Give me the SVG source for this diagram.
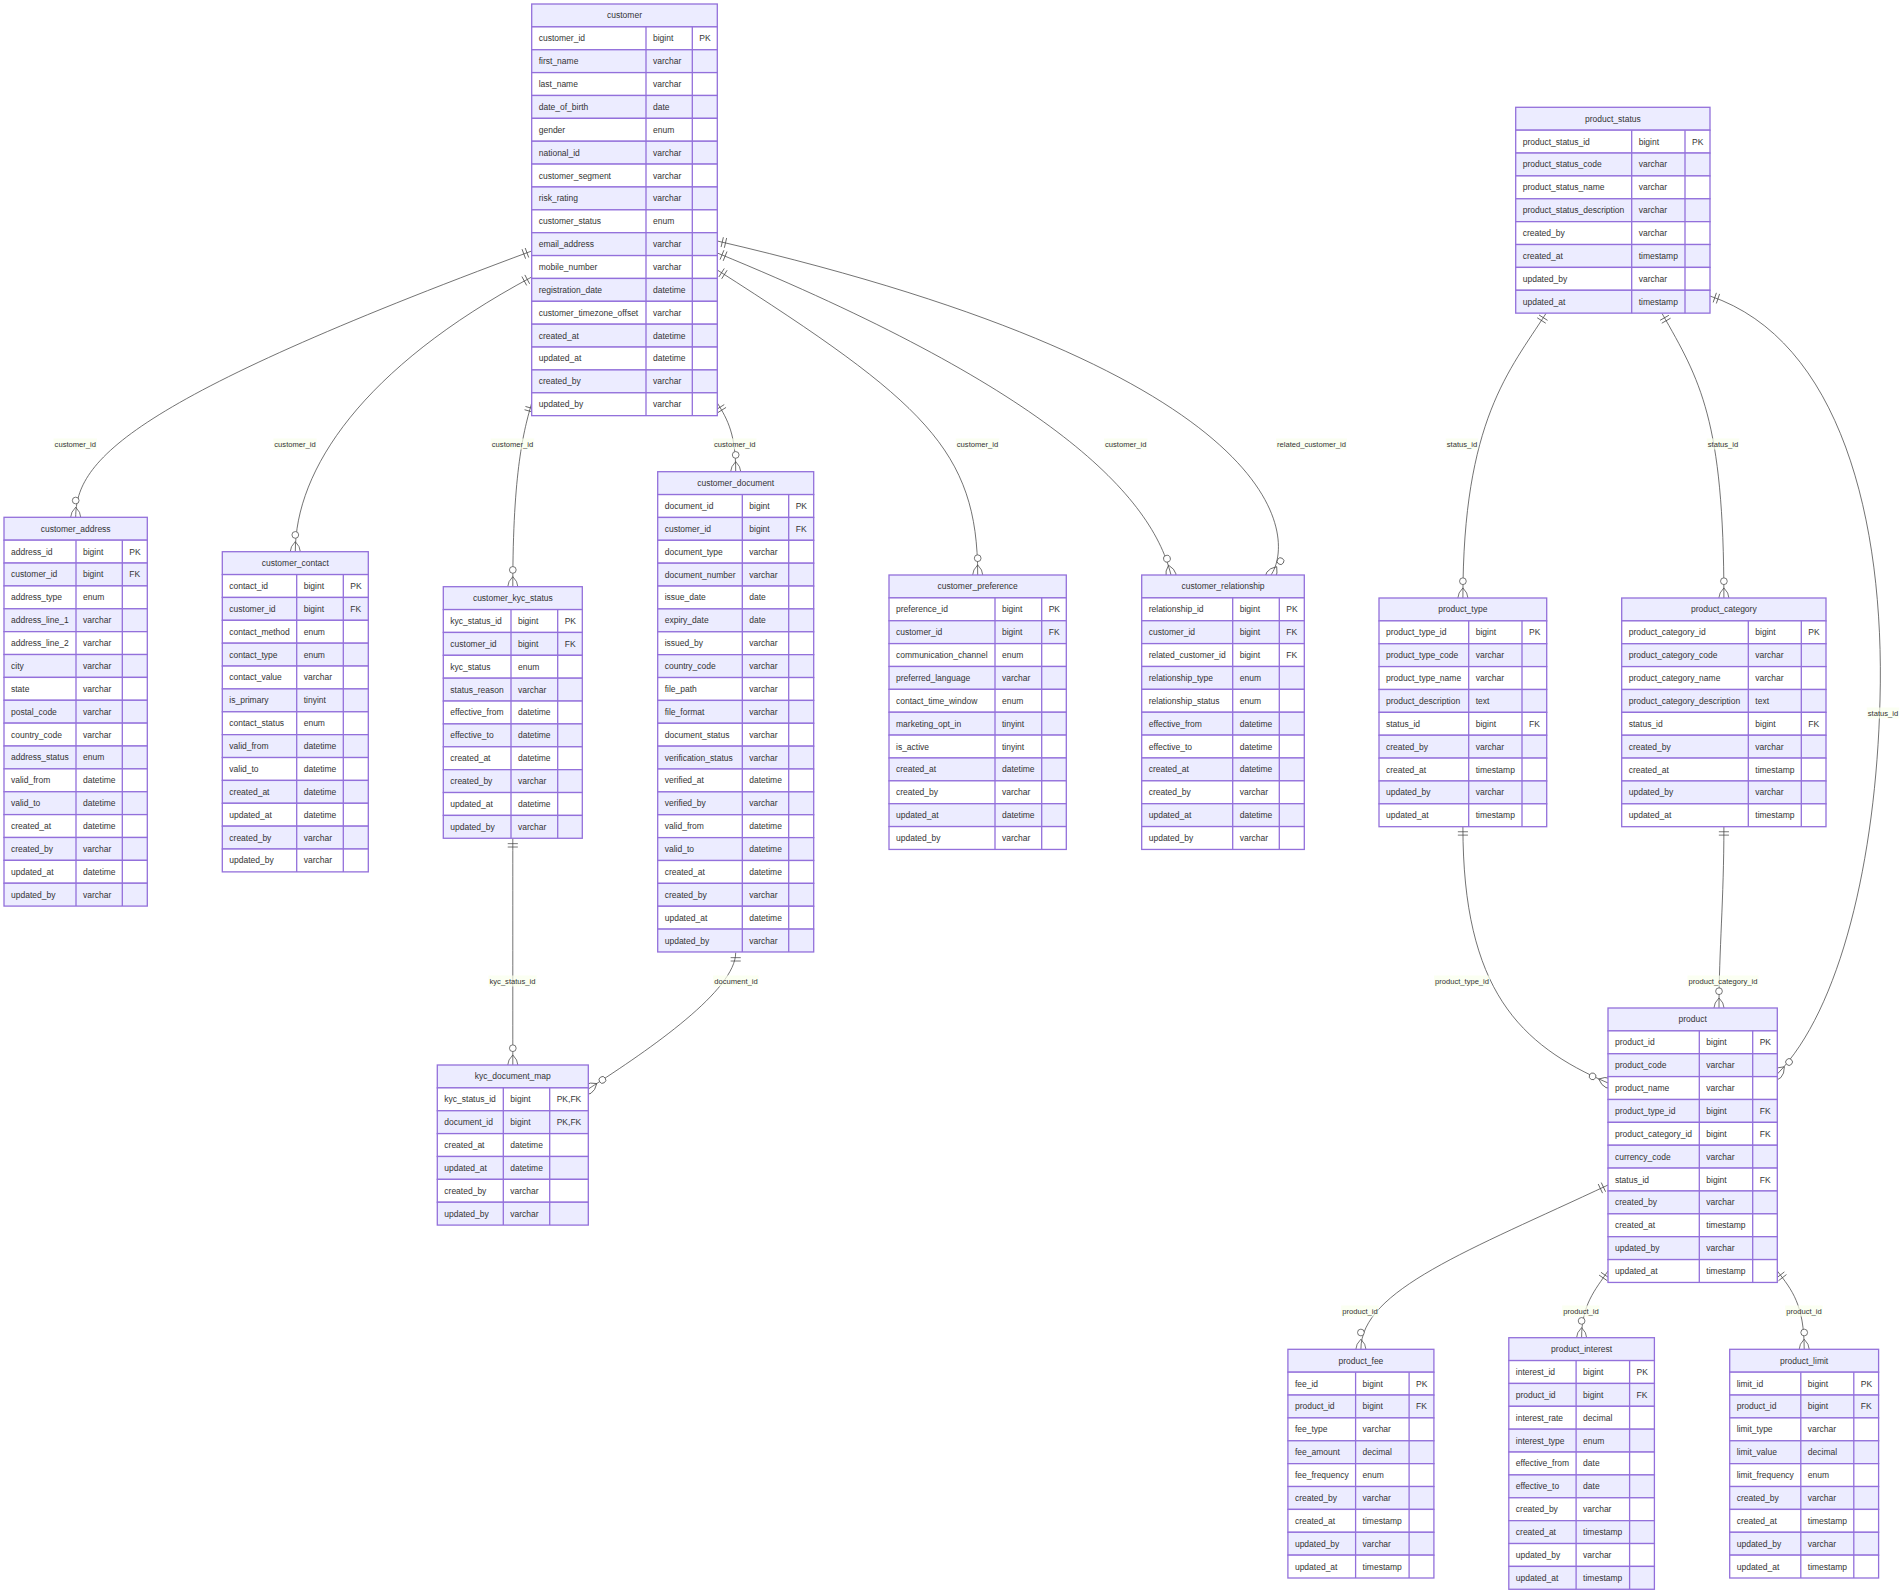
<svg xmlns="http://www.w3.org/2000/svg" width="1904" height="1595" viewBox="0 0 1904 1595">
<style>
  .h{fill:#ECECFF;stroke:#9370DB;stroke-width:1.3}
  .o{fill:#FFFFFF;stroke:#9370DB;stroke-width:1.3}
  .e{fill:#ECECFF;stroke:#9370DB;stroke-width:1.3}
  .d{fill:none;stroke:#9370DB;stroke-width:1.3}
  .t{font-family:"Liberation Sans",Arial,sans-serif;font-size:8.5px;fill:#333;dominant-baseline:central}
  .c{text-anchor:middle}
  .rel{fill:none;stroke:#444;stroke-width:0.75;marker-start:url(#one);marker-end:url(#many)}
  .lbg{fill:#F9FFEC;opacity:0.7}
  .lb{font-family:"Liberation Sans",Arial,sans-serif;font-size:7.6px;fill:#333;text-anchor:middle;dominant-baseline:central}
</style>
<defs>
  <!-- exactly-one bar pair at the parent end -->
  <marker id="one" viewBox="0 0 18 18" refX="0" refY="9" markerWidth="10.1" markerHeight="10.1" markerUnits="userSpaceOnUse" orient="auto" overflow="visible">
    <path d="M9,0 L9,18 M15,0 L15,18" fill="none" stroke="#444" stroke-width="1.3"/>
  </marker>
  <!-- zero-or-more circle and crow's foot at the child end -->
  <marker id="many" viewBox="0 0 57 36" refX="39" refY="18" markerWidth="31.9" markerHeight="20.2" markerUnits="userSpaceOnUse" orient="auto" overflow="visible">
    <circle cx="9" cy="18" r="6" fill="#fff" stroke="#444" stroke-width="1.3"/>
    <path d="M21,18 Q39,0 57,18 Q39,36 21,18" fill="none" stroke="#444" stroke-width="1.3"/>
  </marker>
</defs>
<rect width="1904" height="1595" fill="#fff"/>

<g id="connectors">
  <path class="rel" d="M531.7,251 C130,400 75.7,460 75.7,517.3"/>
  <path class="rel" d="M531.7,277 C362,368 295.3,470 295.3,551.7"/>
  <path class="rel" d="M531.7,403 C524,430 512.8,470 512.8,586.7"/>
  <path class="rel" d="M717.3,403 C728,420 735.7,435 735.7,471.7"/>
  <path class="rel" d="M717.3,270 C924,402 977.7,450 977.7,575"/>
  <path class="rel" d="M717.3,253 C1039,385 1150,490 1171,575"/>
  <path class="rel" d="M717.3,241 C1295,375 1295,540 1271,575"/>
  <path class="rel" d="M512.8,838.6 C512.8,900 512.8,1000 512.8,1065"/>
  <path class="rel" d="M735.7,952.6 C735.7,990 652,1048 588.3,1089"/>
  <path class="rel" d="M1546,313.4 C1510,370 1462.9,420 1462.9,598"/>
  <path class="rel" d="M1662,313.4 C1700,380 1723.9,420 1723.9,598"/>
  <path class="rel" d="M1710,296 C1840,340 1885,520 1880,700 C1876,860 1840,1010 1777.3,1074"/>
  <path class="rel" d="M1462.9,826.7 C1462.9,990 1520,1045 1608,1083"/>
  <path class="rel" d="M1723.9,826.7 C1723.9,900 1719,950 1719,1008"/>
  <path class="rel" d="M1608,1185 C1470,1250 1360.9,1290 1360.9,1349.3"/>
  <path class="rel" d="M1608,1271 C1595,1290 1581.6,1305 1581.6,1337.7"/>
  <path class="rel" d="M1777.3,1271 C1792,1290 1804.2,1305 1804.2,1349.3"/>
  <g id="edge-labels">
    <rect class="lbg" x="53.6" y="438.5" width="43.4" height="11"/><text class="lb" x="75.3" y="444">customer_id</text>
    <rect class="lbg" x="273.3" y="438.5" width="43.4" height="11"/><text class="lb" x="295" y="444">customer_id</text>
    <rect class="lbg" x="490.8" y="438.5" width="43.4" height="11"/><text class="lb" x="512.5" y="444">customer_id</text>
    <rect class="lbg" x="713" y="438.5" width="43.4" height="11"/><text class="lb" x="734.7" y="444">customer_id</text>
    <rect class="lbg" x="955.8" y="438.5" width="43.4" height="11"/><text class="lb" x="977.5" y="444">customer_id</text>
    <rect class="lbg" x="1104" y="438.5" width="43.4" height="11"/><text class="lb" x="1125.7" y="444">customer_id</text>
    <rect class="lbg" x="1276" y="438.5" width="71" height="11"/><text class="lb" x="1311.5" y="444">related_customer_id</text>
    <rect class="lbg" x="1445.8" y="438.5" width="32.4" height="11"/><text class="lb" x="1462" y="444">status_id</text>
    <rect class="lbg" x="1706.8" y="438.5" width="32.4" height="11"/><text class="lb" x="1723" y="444">status_id</text>
    <rect class="lbg" x="1866.8" y="707.5" width="32.4" height="11"/><text class="lb" x="1883" y="713">status_id</text>
    <rect class="lbg" x="488.5" y="975.5" width="48" height="11"/><text class="lb" x="512.5" y="981">kyc_status_id</text>
    <rect class="lbg" x="713.2" y="975.5" width="45.5" height="11"/><text class="lb" x="736" y="981">document_id</text>
    <rect class="lbg" x="1434" y="975.5" width="56" height="11"/><text class="lb" x="1462" y="981">product_type_id</text>
    <rect class="lbg" x="1687.5" y="975.5" width="71" height="11"/><text class="lb" x="1723" y="981">product_category_id</text>
    <rect class="lbg" x="1341.2" y="1305.5" width="37.5" height="11"/><text class="lb" x="1360" y="1311">product_id</text>
    <rect class="lbg" x="1562.2" y="1305.5" width="37.5" height="11"/><text class="lb" x="1581" y="1311">product_id</text>
    <rect class="lbg" x="1785.2" y="1305.5" width="37.5" height="11"/><text class="lb" x="1804" y="1311">product_id</text>
  </g>
</g>

<g id="nodes">
<!-- customer -->
<g id="customer" transform="translate(531.7,4)">
  <rect class="h" width="185.6" height="22.87"/>
  <rect class="o" y="22.87" width="185.6" height="22.87"/>
  <rect class="e" y="45.74" width="185.6" height="22.87"/>
  <rect class="o" y="68.61" width="185.6" height="22.87"/>
  <rect class="e" y="91.48" width="185.6" height="22.87"/>
  <rect class="o" y="114.35" width="185.6" height="22.87"/>
  <rect class="e" y="137.22" width="185.6" height="22.87"/>
  <rect class="o" y="160.09" width="185.6" height="22.87"/>
  <rect class="e" y="182.96" width="185.6" height="22.87"/>
  <rect class="o" y="205.83" width="185.6" height="22.87"/>
  <rect class="e" y="228.7" width="185.6" height="22.87"/>
  <rect class="o" y="251.57" width="185.6" height="22.87"/>
  <rect class="e" y="274.44" width="185.6" height="22.87"/>
  <rect class="o" y="297.31" width="185.6" height="22.87"/>
  <rect class="e" y="320.18" width="185.6" height="22.87"/>
  <rect class="o" y="343.05" width="185.6" height="22.87"/>
  <rect class="e" y="365.92" width="185.6" height="22.87"/>
  <rect class="o" y="388.79" width="185.6" height="22.87"/>
  <path class="d" d="M114.3,22.87V411.66M160.6,22.87V411.66"/>
  <g class="t">
    <text class="c" x="92.8" y="11.44">customer</text>
    <text x="7" y="34.31">customer_id</text><text x="121.3" y="34.31">bigint</text><text x="167.6" y="34.31">PK</text>
    <text x="7" y="57.18">first_name</text><text x="121.3" y="57.18">varchar</text>
    <text x="7" y="80.05">last_name</text><text x="121.3" y="80.05">varchar</text>
    <text x="7" y="102.92">date_of_birth</text><text x="121.3" y="102.92">date</text>
    <text x="7" y="125.79">gender</text><text x="121.3" y="125.79">enum</text>
    <text x="7" y="148.66">national_id</text><text x="121.3" y="148.66">varchar</text>
    <text x="7" y="171.53">customer_segment</text><text x="121.3" y="171.53">varchar</text>
    <text x="7" y="194.4">risk_rating</text><text x="121.3" y="194.4">varchar</text>
    <text x="7" y="217.27">customer_status</text><text x="121.3" y="217.27">enum</text>
    <text x="7" y="240.14">email_address</text><text x="121.3" y="240.14">varchar</text>
    <text x="7" y="263.01">mobile_number</text><text x="121.3" y="263.01">varchar</text>
    <text x="7" y="285.88">registration_date</text><text x="121.3" y="285.88">datetime</text>
    <text x="7" y="308.75">customer_timezone_offset</text><text x="121.3" y="308.75">varchar</text>
    <text x="7" y="331.62">created_at</text><text x="121.3" y="331.62">datetime</text>
    <text x="7" y="354.49">updated_at</text><text x="121.3" y="354.49">datetime</text>
    <text x="7" y="377.36">created_by</text><text x="121.3" y="377.36">varchar</text>
    <text x="7" y="400.23">updated_by</text><text x="121.3" y="400.23">varchar</text>
  </g>
</g>

<!-- customer_address -->
<g id="customer_address" transform="translate(4,517.3)">
  <rect class="h" width="143.3" height="22.87"/>
  <rect class="o" y="22.87" width="143.3" height="22.87"/>
  <rect class="e" y="45.74" width="143.3" height="22.87"/>
  <rect class="o" y="68.61" width="143.3" height="22.87"/>
  <rect class="e" y="91.48" width="143.3" height="22.87"/>
  <rect class="o" y="114.35" width="143.3" height="22.87"/>
  <rect class="e" y="137.22" width="143.3" height="22.87"/>
  <rect class="o" y="160.09" width="143.3" height="22.87"/>
  <rect class="e" y="182.96" width="143.3" height="22.87"/>
  <rect class="o" y="205.83" width="143.3" height="22.87"/>
  <rect class="e" y="228.7" width="143.3" height="22.87"/>
  <rect class="o" y="251.57" width="143.3" height="22.87"/>
  <rect class="e" y="274.44" width="143.3" height="22.87"/>
  <rect class="o" y="297.31" width="143.3" height="22.87"/>
  <rect class="e" y="320.18" width="143.3" height="22.87"/>
  <rect class="o" y="343.05" width="143.3" height="22.87"/>
  <rect class="e" y="365.92" width="143.3" height="22.87"/>
  <path class="d" d="M72,22.87V388.79M118.3,22.87V388.79"/>
  <g class="t">
    <text class="c" x="71.65" y="11.44">customer_address</text>
    <text x="7" y="34.31">address_id</text><text x="79" y="34.31">bigint</text><text x="125.3" y="34.31">PK</text>
    <text x="7" y="57.18">customer_id</text><text x="79" y="57.18">bigint</text><text x="125.3" y="57.18">FK</text>
    <text x="7" y="80.05">address_type</text><text x="79" y="80.05">enum</text>
    <text x="7" y="102.92">address_line_1</text><text x="79" y="102.92">varchar</text>
    <text x="7" y="125.79">address_line_2</text><text x="79" y="125.79">varchar</text>
    <text x="7" y="148.66">city</text><text x="79" y="148.66">varchar</text>
    <text x="7" y="171.53">state</text><text x="79" y="171.53">varchar</text>
    <text x="7" y="194.4">postal_code</text><text x="79" y="194.4">varchar</text>
    <text x="7" y="217.27">country_code</text><text x="79" y="217.27">varchar</text>
    <text x="7" y="240.14">address_status</text><text x="79" y="240.14">enum</text>
    <text x="7" y="263.01">valid_from</text><text x="79" y="263.01">datetime</text>
    <text x="7" y="285.88">valid_to</text><text x="79" y="285.88">datetime</text>
    <text x="7" y="308.75">created_at</text><text x="79" y="308.75">datetime</text>
    <text x="7" y="331.62">created_by</text><text x="79" y="331.62">varchar</text>
    <text x="7" y="354.49">updated_at</text><text x="79" y="354.49">datetime</text>
    <text x="7" y="377.36">updated_by</text><text x="79" y="377.36">varchar</text>
  </g>
</g>

<!-- customer_contact -->
<g id="customer_contact" transform="translate(222.3,551.7)">
  <rect class="h" width="146" height="22.87"/>
  <rect class="o" y="22.87" width="146" height="22.87"/>
  <rect class="e" y="45.74" width="146" height="22.87"/>
  <rect class="o" y="68.61" width="146" height="22.87"/>
  <rect class="e" y="91.48" width="146" height="22.87"/>
  <rect class="o" y="114.35" width="146" height="22.87"/>
  <rect class="e" y="137.22" width="146" height="22.87"/>
  <rect class="o" y="160.09" width="146" height="22.87"/>
  <rect class="e" y="182.96" width="146" height="22.87"/>
  <rect class="o" y="205.83" width="146" height="22.87"/>
  <rect class="e" y="228.7" width="146" height="22.87"/>
  <rect class="o" y="251.57" width="146" height="22.87"/>
  <rect class="e" y="274.44" width="146" height="22.87"/>
  <rect class="o" y="297.31" width="146" height="22.87"/>
  <path class="d" d="M74.4,22.87V320.18M121,22.87V320.18"/>
  <g class="t">
    <text class="c" x="73" y="11.44">customer_contact</text>
    <text x="7" y="34.31">contact_id</text><text x="81.4" y="34.31">bigint</text><text x="128" y="34.31">PK</text>
    <text x="7" y="57.18">customer_id</text><text x="81.4" y="57.18">bigint</text><text x="128" y="57.18">FK</text>
    <text x="7" y="80.05">contact_method</text><text x="81.4" y="80.05">enum</text>
    <text x="7" y="102.92">contact_type</text><text x="81.4" y="102.92">enum</text>
    <text x="7" y="125.79">contact_value</text><text x="81.4" y="125.79">varchar</text>
    <text x="7" y="148.66">is_primary</text><text x="81.4" y="148.66">tinyint</text>
    <text x="7" y="171.53">contact_status</text><text x="81.4" y="171.53">enum</text>
    <text x="7" y="194.4">valid_from</text><text x="81.4" y="194.4">datetime</text>
    <text x="7" y="217.27">valid_to</text><text x="81.4" y="217.27">datetime</text>
    <text x="7" y="240.14">created_at</text><text x="81.4" y="240.14">datetime</text>
    <text x="7" y="263.01">updated_at</text><text x="81.4" y="263.01">datetime</text>
    <text x="7" y="285.88">created_by</text><text x="81.4" y="285.88">varchar</text>
    <text x="7" y="308.75">updated_by</text><text x="81.4" y="308.75">varchar</text>
  </g>
</g>

<!-- customer_kyc_status -->
<g id="customer_kyc_status" transform="translate(443.3,586.7)">
  <rect class="h" width="139" height="22.87"/>
  <rect class="o" y="22.87" width="139" height="22.87"/>
  <rect class="e" y="45.74" width="139" height="22.87"/>
  <rect class="o" y="68.61" width="139" height="22.87"/>
  <rect class="e" y="91.48" width="139" height="22.87"/>
  <rect class="o" y="114.35" width="139" height="22.87"/>
  <rect class="e" y="137.22" width="139" height="22.87"/>
  <rect class="o" y="160.09" width="139" height="22.87"/>
  <rect class="e" y="182.96" width="139" height="22.87"/>
  <rect class="o" y="205.83" width="139" height="22.87"/>
  <rect class="e" y="228.7" width="139" height="22.87"/>
  <path class="d" d="M67.7,22.87V251.57M114.4,22.87V251.57"/>
  <g class="t">
    <text class="c" x="69.5" y="11.44">customer_kyc_status</text>
    <text x="7" y="34.31">kyc_status_id</text><text x="74.7" y="34.31">bigint</text><text x="121.4" y="34.31">PK</text>
    <text x="7" y="57.18">customer_id</text><text x="74.7" y="57.18">bigint</text><text x="121.4" y="57.18">FK</text>
    <text x="7" y="80.05">kyc_status</text><text x="74.7" y="80.05">enum</text>
    <text x="7" y="102.92">status_reason</text><text x="74.7" y="102.92">varchar</text>
    <text x="7" y="125.79">effective_from</text><text x="74.7" y="125.79">datetime</text>
    <text x="7" y="148.66">effective_to</text><text x="74.7" y="148.66">datetime</text>
    <text x="7" y="171.53">created_at</text><text x="74.7" y="171.53">datetime</text>
    <text x="7" y="194.4">created_by</text><text x="74.7" y="194.4">varchar</text>
    <text x="7" y="217.27">updated_at</text><text x="74.7" y="217.27">datetime</text>
    <text x="7" y="240.14">updated_by</text><text x="74.7" y="240.14">varchar</text>
  </g>
</g>

<!-- customer_document -->
<g id="customer_document" transform="translate(657.7,471.7)">
  <rect class="h" width="156" height="22.87"/>
  <rect class="o" y="22.87" width="156" height="22.87"/>
  <rect class="e" y="45.74" width="156" height="22.87"/>
  <rect class="o" y="68.61" width="156" height="22.87"/>
  <rect class="e" y="91.48" width="156" height="22.87"/>
  <rect class="o" y="114.35" width="156" height="22.87"/>
  <rect class="e" y="137.22" width="156" height="22.87"/>
  <rect class="o" y="160.09" width="156" height="22.87"/>
  <rect class="e" y="182.96" width="156" height="22.87"/>
  <rect class="o" y="205.83" width="156" height="22.87"/>
  <rect class="e" y="228.7" width="156" height="22.87"/>
  <rect class="o" y="251.57" width="156" height="22.87"/>
  <rect class="e" y="274.44" width="156" height="22.87"/>
  <rect class="o" y="297.31" width="156" height="22.87"/>
  <rect class="e" y="320.18" width="156" height="22.87"/>
  <rect class="o" y="343.05" width="156" height="22.87"/>
  <rect class="e" y="365.92" width="156" height="22.87"/>
  <rect class="o" y="388.79" width="156" height="22.87"/>
  <rect class="e" y="411.66" width="156" height="22.87"/>
  <rect class="o" y="434.53" width="156" height="22.87"/>
  <rect class="e" y="457.4" width="156" height="22.87"/>
  <path class="d" d="M84.6,22.87V480.27M131,22.87V480.27"/>
  <g class="t">
    <text class="c" x="78" y="11.44">customer_document</text>
    <text x="7" y="34.31">document_id</text><text x="91.6" y="34.31">bigint</text><text x="138" y="34.31">PK</text>
    <text x="7" y="57.18">customer_id</text><text x="91.6" y="57.18">bigint</text><text x="138" y="57.18">FK</text>
    <text x="7" y="80.05">document_type</text><text x="91.6" y="80.05">varchar</text>
    <text x="7" y="102.92">document_number</text><text x="91.6" y="102.92">varchar</text>
    <text x="7" y="125.79">issue_date</text><text x="91.6" y="125.79">date</text>
    <text x="7" y="148.66">expiry_date</text><text x="91.6" y="148.66">date</text>
    <text x="7" y="171.53">issued_by</text><text x="91.6" y="171.53">varchar</text>
    <text x="7" y="194.4">country_code</text><text x="91.6" y="194.4">varchar</text>
    <text x="7" y="217.27">file_path</text><text x="91.6" y="217.27">varchar</text>
    <text x="7" y="240.14">file_format</text><text x="91.6" y="240.14">varchar</text>
    <text x="7" y="263.01">document_status</text><text x="91.6" y="263.01">varchar</text>
    <text x="7" y="285.88">verification_status</text><text x="91.6" y="285.88">varchar</text>
    <text x="7" y="308.75">verified_at</text><text x="91.6" y="308.75">datetime</text>
    <text x="7" y="331.62">verified_by</text><text x="91.6" y="331.62">varchar</text>
    <text x="7" y="354.49">valid_from</text><text x="91.6" y="354.49">datetime</text>
    <text x="7" y="377.36">valid_to</text><text x="91.6" y="377.36">datetime</text>
    <text x="7" y="400.23">created_at</text><text x="91.6" y="400.23">datetime</text>
    <text x="7" y="423.1">created_by</text><text x="91.6" y="423.1">varchar</text>
    <text x="7" y="445.97">updated_at</text><text x="91.6" y="445.97">datetime</text>
    <text x="7" y="468.84">updated_by</text><text x="91.6" y="468.84">varchar</text>
  </g>
</g>

<!-- customer_preference -->
<g id="customer_preference" transform="translate(889,575)">
  <rect class="h" width="177.3" height="22.87"/>
  <rect class="o" y="22.87" width="177.3" height="22.87"/>
  <rect class="e" y="45.74" width="177.3" height="22.87"/>
  <rect class="o" y="68.61" width="177.3" height="22.87"/>
  <rect class="e" y="91.48" width="177.3" height="22.87"/>
  <rect class="o" y="114.35" width="177.3" height="22.87"/>
  <rect class="e" y="137.22" width="177.3" height="22.87"/>
  <rect class="o" y="160.09" width="177.3" height="22.87"/>
  <rect class="e" y="182.96" width="177.3" height="22.87"/>
  <rect class="o" y="205.83" width="177.3" height="22.87"/>
  <rect class="e" y="228.7" width="177.3" height="22.87"/>
  <rect class="o" y="251.57" width="177.3" height="22.87"/>
  <path class="d" d="M106,22.87V274.44M152.7,22.87V274.44"/>
  <g class="t">
    <text class="c" x="88.65" y="11.44">customer_preference</text>
    <text x="7" y="34.31">preference_id</text><text x="113" y="34.31">bigint</text><text x="159.7" y="34.31">PK</text>
    <text x="7" y="57.18">customer_id</text><text x="113" y="57.18">bigint</text><text x="159.7" y="57.18">FK</text>
    <text x="7" y="80.05">communication_channel</text><text x="113" y="80.05">enum</text>
    <text x="7" y="102.92">preferred_language</text><text x="113" y="102.92">varchar</text>
    <text x="7" y="125.79">contact_time_window</text><text x="113" y="125.79">enum</text>
    <text x="7" y="148.66">marketing_opt_in</text><text x="113" y="148.66">tinyint</text>
    <text x="7" y="171.53">is_active</text><text x="113" y="171.53">tinyint</text>
    <text x="7" y="194.4">created_at</text><text x="113" y="194.4">datetime</text>
    <text x="7" y="217.27">created_by</text><text x="113" y="217.27">varchar</text>
    <text x="7" y="240.14">updated_at</text><text x="113" y="240.14">datetime</text>
    <text x="7" y="263.01">updated_by</text><text x="113" y="263.01">varchar</text>
  </g>
</g>

<!-- customer_relationship -->
<g id="customer_relationship" transform="translate(1141.7,575)">
  <rect class="h" width="162.6" height="22.87"/>
  <rect class="o" y="22.87" width="162.6" height="22.87"/>
  <rect class="e" y="45.74" width="162.6" height="22.87"/>
  <rect class="o" y="68.61" width="162.6" height="22.87"/>
  <rect class="e" y="91.48" width="162.6" height="22.87"/>
  <rect class="o" y="114.35" width="162.6" height="22.87"/>
  <rect class="e" y="137.22" width="162.6" height="22.87"/>
  <rect class="o" y="160.09" width="162.6" height="22.87"/>
  <rect class="e" y="182.96" width="162.6" height="22.87"/>
  <rect class="o" y="205.83" width="162.6" height="22.87"/>
  <rect class="e" y="228.7" width="162.6" height="22.87"/>
  <rect class="o" y="251.57" width="162.6" height="22.87"/>
  <path class="d" d="M91,22.87V274.44M137.6,22.87V274.44"/>
  <g class="t">
    <text class="c" x="81.3" y="11.44">customer_relationship</text>
    <text x="7" y="34.31">relationship_id</text><text x="98" y="34.31">bigint</text><text x="144.6" y="34.31">PK</text>
    <text x="7" y="57.18">customer_id</text><text x="98" y="57.18">bigint</text><text x="144.6" y="57.18">FK</text>
    <text x="7" y="80.05">related_customer_id</text><text x="98" y="80.05">bigint</text><text x="144.6" y="80.05">FK</text>
    <text x="7" y="102.92">relationship_type</text><text x="98" y="102.92">enum</text>
    <text x="7" y="125.79">relationship_status</text><text x="98" y="125.79">enum</text>
    <text x="7" y="148.66">effective_from</text><text x="98" y="148.66">datetime</text>
    <text x="7" y="171.53">effective_to</text><text x="98" y="171.53">datetime</text>
    <text x="7" y="194.4">created_at</text><text x="98" y="194.4">datetime</text>
    <text x="7" y="217.27">created_by</text><text x="98" y="217.27">varchar</text>
    <text x="7" y="240.14">updated_at</text><text x="98" y="240.14">datetime</text>
    <text x="7" y="263.01">updated_by</text><text x="98" y="263.01">varchar</text>
  </g>
</g>

<!-- kyc_document_map -->
<g id="kyc_document_map" transform="translate(437.3,1065)">
  <rect class="h" width="151" height="22.87"/>
  <rect class="o" y="22.87" width="151" height="22.87"/>
  <rect class="e" y="45.74" width="151" height="22.87"/>
  <rect class="o" y="68.61" width="151" height="22.87"/>
  <rect class="e" y="91.48" width="151" height="22.87"/>
  <rect class="o" y="114.35" width="151" height="22.87"/>
  <rect class="e" y="137.22" width="151" height="22.87"/>
  <path class="d" d="M66,22.87V160.09M112.4,22.87V160.09"/>
  <g class="t">
    <text class="c" x="75.5" y="11.44">kyc_document_map</text>
    <text x="7" y="34.31">kyc_status_id</text><text x="73" y="34.31">bigint</text><text x="119.4" y="34.31">PK,FK</text>
    <text x="7" y="57.18">document_id</text><text x="73" y="57.18">bigint</text><text x="119.4" y="57.18">PK,FK</text>
    <text x="7" y="80.05">created_at</text><text x="73" y="80.05">datetime</text>
    <text x="7" y="102.92">updated_at</text><text x="73" y="102.92">datetime</text>
    <text x="7" y="125.79">created_by</text><text x="73" y="125.79">varchar</text>
    <text x="7" y="148.66">updated_by</text><text x="73" y="148.66">varchar</text>
  </g>
</g>

<!-- product_status -->
<g id="product_status" transform="translate(1515.7,107.3)">
  <rect class="h" width="194.3" height="22.87"/>
  <rect class="o" y="22.87" width="194.3" height="22.87"/>
  <rect class="e" y="45.74" width="194.3" height="22.87"/>
  <rect class="o" y="68.61" width="194.3" height="22.87"/>
  <rect class="e" y="91.48" width="194.3" height="22.87"/>
  <rect class="o" y="114.35" width="194.3" height="22.87"/>
  <rect class="e" y="137.22" width="194.3" height="22.87"/>
  <rect class="o" y="160.09" width="194.3" height="22.87"/>
  <rect class="e" y="182.96" width="194.3" height="22.87"/>
  <path class="d" d="M116,22.87V205.83M169.3,22.87V205.83"/>
  <g class="t">
    <text class="c" x="97.15" y="11.44">product_status</text>
    <text x="7" y="34.31">product_status_id</text><text x="123" y="34.31">bigint</text><text x="176.3" y="34.31">PK</text>
    <text x="7" y="57.18">product_status_code</text><text x="123" y="57.18">varchar</text>
    <text x="7" y="80.05">product_status_name</text><text x="123" y="80.05">varchar</text>
    <text x="7" y="102.92">product_status_description</text><text x="123" y="102.92">varchar</text>
    <text x="7" y="125.79">created_by</text><text x="123" y="125.79">varchar</text>
    <text x="7" y="148.66">created_at</text><text x="123" y="148.66">timestamp</text>
    <text x="7" y="171.53">updated_by</text><text x="123" y="171.53">varchar</text>
    <text x="7" y="194.4">updated_at</text><text x="123" y="194.4">timestamp</text>
  </g>
</g>

<!-- product_type -->
<g id="product_type" transform="translate(1379,598)">
  <rect class="h" width="167.7" height="22.87"/>
  <rect class="o" y="22.87" width="167.7" height="22.87"/>
  <rect class="e" y="45.74" width="167.7" height="22.87"/>
  <rect class="o" y="68.61" width="167.7" height="22.87"/>
  <rect class="e" y="91.48" width="167.7" height="22.87"/>
  <rect class="o" y="114.35" width="167.7" height="22.87"/>
  <rect class="e" y="137.22" width="167.7" height="22.87"/>
  <rect class="o" y="160.09" width="167.7" height="22.87"/>
  <rect class="e" y="182.96" width="167.7" height="22.87"/>
  <rect class="o" y="205.83" width="167.7" height="22.87"/>
  <path class="d" d="M89.7,22.87V228.7M143,22.87V228.7"/>
  <g class="t">
    <text class="c" x="83.85" y="11.44">product_type</text>
    <text x="7" y="34.31">product_type_id</text><text x="96.7" y="34.31">bigint</text><text x="150" y="34.31">PK</text>
    <text x="7" y="57.18">product_type_code</text><text x="96.7" y="57.18">varchar</text>
    <text x="7" y="80.05">product_type_name</text><text x="96.7" y="80.05">varchar</text>
    <text x="7" y="102.92">product_description</text><text x="96.7" y="102.92">text</text>
    <text x="7" y="125.79">status_id</text><text x="96.7" y="125.79">bigint</text><text x="150" y="125.79">FK</text>
    <text x="7" y="148.66">created_by</text><text x="96.7" y="148.66">varchar</text>
    <text x="7" y="171.53">created_at</text><text x="96.7" y="171.53">timestamp</text>
    <text x="7" y="194.4">updated_by</text><text x="96.7" y="194.4">varchar</text>
    <text x="7" y="217.27">updated_at</text><text x="96.7" y="217.27">timestamp</text>
  </g>
</g>

<!-- product_category -->
<g id="product_category" transform="translate(1621.7,598)">
  <rect class="h" width="204.3" height="22.87"/>
  <rect class="o" y="22.87" width="204.3" height="22.87"/>
  <rect class="e" y="45.74" width="204.3" height="22.87"/>
  <rect class="o" y="68.61" width="204.3" height="22.87"/>
  <rect class="e" y="91.48" width="204.3" height="22.87"/>
  <rect class="o" y="114.35" width="204.3" height="22.87"/>
  <rect class="e" y="137.22" width="204.3" height="22.87"/>
  <rect class="o" y="160.09" width="204.3" height="22.87"/>
  <rect class="e" y="182.96" width="204.3" height="22.87"/>
  <rect class="o" y="205.83" width="204.3" height="22.87"/>
  <path class="d" d="M126.6,22.87V228.7M179.6,22.87V228.7"/>
  <g class="t">
    <text class="c" x="102.15" y="11.44">product_category</text>
    <text x="7" y="34.31">product_category_id</text><text x="133.6" y="34.31">bigint</text><text x="186.6" y="34.31">PK</text>
    <text x="7" y="57.18">product_category_code</text><text x="133.6" y="57.18">varchar</text>
    <text x="7" y="80.05">product_category_name</text><text x="133.6" y="80.05">varchar</text>
    <text x="7" y="102.92">product_category_description</text><text x="133.6" y="102.92">text</text>
    <text x="7" y="125.79">status_id</text><text x="133.6" y="125.79">bigint</text><text x="186.6" y="125.79">FK</text>
    <text x="7" y="148.66">created_by</text><text x="133.6" y="148.66">varchar</text>
    <text x="7" y="171.53">created_at</text><text x="133.6" y="171.53">timestamp</text>
    <text x="7" y="194.4">updated_by</text><text x="133.6" y="194.4">varchar</text>
    <text x="7" y="217.27">updated_at</text><text x="133.6" y="217.27">timestamp</text>
  </g>
</g>

<!-- product -->
<g id="product" transform="translate(1608,1008)">
  <rect class="h" width="169.3" height="22.87"/>
  <rect class="o" y="22.87" width="169.3" height="22.87"/>
  <rect class="e" y="45.74" width="169.3" height="22.87"/>
  <rect class="o" y="68.61" width="169.3" height="22.87"/>
  <rect class="e" y="91.48" width="169.3" height="22.87"/>
  <rect class="o" y="114.35" width="169.3" height="22.87"/>
  <rect class="e" y="137.22" width="169.3" height="22.87"/>
  <rect class="o" y="160.09" width="169.3" height="22.87"/>
  <rect class="e" y="182.96" width="169.3" height="22.87"/>
  <rect class="o" y="205.83" width="169.3" height="22.87"/>
  <rect class="e" y="228.7" width="169.3" height="22.87"/>
  <rect class="o" y="251.57" width="169.3" height="22.87"/>
  <path class="d" d="M91.3,22.87V274.44M144.7,22.87V274.44"/>
  <g class="t">
    <text class="c" x="84.65" y="11.44">product</text>
    <text x="7" y="34.31">product_id</text><text x="98.3" y="34.31">bigint</text><text x="151.7" y="34.31">PK</text>
    <text x="7" y="57.18">product_code</text><text x="98.3" y="57.18">varchar</text>
    <text x="7" y="80.05">product_name</text><text x="98.3" y="80.05">varchar</text>
    <text x="7" y="102.92">product_type_id</text><text x="98.3" y="102.92">bigint</text><text x="151.7" y="102.92">FK</text>
    <text x="7" y="125.79">product_category_id</text><text x="98.3" y="125.79">bigint</text><text x="151.7" y="125.79">FK</text>
    <text x="7" y="148.66">currency_code</text><text x="98.3" y="148.66">varchar</text>
    <text x="7" y="171.53">status_id</text><text x="98.3" y="171.53">bigint</text><text x="151.7" y="171.53">FK</text>
    <text x="7" y="194.4">created_by</text><text x="98.3" y="194.4">varchar</text>
    <text x="7" y="217.27">created_at</text><text x="98.3" y="217.27">timestamp</text>
    <text x="7" y="240.14">updated_by</text><text x="98.3" y="240.14">varchar</text>
    <text x="7" y="263.01">updated_at</text><text x="98.3" y="263.01">timestamp</text>
  </g>
</g>

<!-- product_fee -->
<g id="product_fee" transform="translate(1287.9,1349.3)">
  <rect class="h" width="146" height="22.87"/>
  <rect class="o" y="22.87" width="146" height="22.87"/>
  <rect class="e" y="45.74" width="146" height="22.87"/>
  <rect class="o" y="68.61" width="146" height="22.87"/>
  <rect class="e" y="91.48" width="146" height="22.87"/>
  <rect class="o" y="114.35" width="146" height="22.87"/>
  <rect class="e" y="137.22" width="146" height="22.87"/>
  <rect class="o" y="160.09" width="146" height="22.87"/>
  <rect class="e" y="182.96" width="146" height="22.87"/>
  <rect class="o" y="205.83" width="146" height="22.87"/>
  <path class="d" d="M67.7,22.87V228.7M121.2,22.87V228.7"/>
  <g class="t">
    <text class="c" x="73" y="11.44">product_fee</text>
    <text x="7" y="34.31">fee_id</text><text x="74.7" y="34.31">bigint</text><text x="128.2" y="34.31">PK</text>
    <text x="7" y="57.18">product_id</text><text x="74.7" y="57.18">bigint</text><text x="128.2" y="57.18">FK</text>
    <text x="7" y="80.05">fee_type</text><text x="74.7" y="80.05">varchar</text>
    <text x="7" y="102.92">fee_amount</text><text x="74.7" y="102.92">decimal</text>
    <text x="7" y="125.79">fee_frequency</text><text x="74.7" y="125.79">enum</text>
    <text x="7" y="148.66">created_by</text><text x="74.7" y="148.66">varchar</text>
    <text x="7" y="171.53">created_at</text><text x="74.7" y="171.53">timestamp</text>
    <text x="7" y="194.4">updated_by</text><text x="74.7" y="194.4">varchar</text>
    <text x="7" y="217.27">updated_at</text><text x="74.7" y="217.27">timestamp</text>
  </g>
</g>

<!-- product_interest -->
<g id="product_interest" transform="translate(1508.8,1337.7)">
  <rect class="h" width="145.6" height="22.87"/>
  <rect class="o" y="22.87" width="145.6" height="22.87"/>
  <rect class="e" y="45.74" width="145.6" height="22.87"/>
  <rect class="o" y="68.61" width="145.6" height="22.87"/>
  <rect class="e" y="91.48" width="145.6" height="22.87"/>
  <rect class="o" y="114.35" width="145.6" height="22.87"/>
  <rect class="e" y="137.22" width="145.6" height="22.87"/>
  <rect class="o" y="160.09" width="145.6" height="22.87"/>
  <rect class="e" y="182.96" width="145.6" height="22.87"/>
  <rect class="o" y="205.83" width="145.6" height="22.87"/>
  <rect class="e" y="228.7" width="145.6" height="22.87"/>
  <path class="d" d="M67.3,22.87V251.57M120.8,22.87V251.57"/>
  <g class="t">
    <text class="c" x="72.8" y="11.44">product_interest</text>
    <text x="7" y="34.31">interest_id</text><text x="74.3" y="34.31">bigint</text><text x="127.8" y="34.31">PK</text>
    <text x="7" y="57.18">product_id</text><text x="74.3" y="57.18">bigint</text><text x="127.8" y="57.18">FK</text>
    <text x="7" y="80.05">interest_rate</text><text x="74.3" y="80.05">decimal</text>
    <text x="7" y="102.92">interest_type</text><text x="74.3" y="102.92">enum</text>
    <text x="7" y="125.79">effective_from</text><text x="74.3" y="125.79">date</text>
    <text x="7" y="148.66">effective_to</text><text x="74.3" y="148.66">date</text>
    <text x="7" y="171.53">created_by</text><text x="74.3" y="171.53">varchar</text>
    <text x="7" y="194.4">created_at</text><text x="74.3" y="194.4">timestamp</text>
    <text x="7" y="217.27">updated_by</text><text x="74.3" y="217.27">varchar</text>
    <text x="7" y="240.14">updated_at</text><text x="74.3" y="240.14">timestamp</text>
  </g>
</g>

<!-- product_limit -->
<g id="product_limit" transform="translate(1729.7,1349.3)">
  <rect class="h" width="148.9" height="22.87"/>
  <rect class="o" y="22.87" width="148.9" height="22.87"/>
  <rect class="e" y="45.74" width="148.9" height="22.87"/>
  <rect class="o" y="68.61" width="148.9" height="22.87"/>
  <rect class="e" y="91.48" width="148.9" height="22.87"/>
  <rect class="o" y="114.35" width="148.9" height="22.87"/>
  <rect class="e" y="137.22" width="148.9" height="22.87"/>
  <rect class="o" y="160.09" width="148.9" height="22.87"/>
  <rect class="e" y="182.96" width="148.9" height="22.87"/>
  <rect class="o" y="205.83" width="148.9" height="22.87"/>
  <path class="d" d="M71.1,22.87V228.7M124.1,22.87V228.7"/>
  <g class="t">
    <text class="c" x="74.45" y="11.44">product_limit</text>
    <text x="7" y="34.31">limit_id</text><text x="78.1" y="34.31">bigint</text><text x="131.1" y="34.31">PK</text>
    <text x="7" y="57.18">product_id</text><text x="78.1" y="57.18">bigint</text><text x="131.1" y="57.18">FK</text>
    <text x="7" y="80.05">limit_type</text><text x="78.1" y="80.05">varchar</text>
    <text x="7" y="102.92">limit_value</text><text x="78.1" y="102.92">decimal</text>
    <text x="7" y="125.79">limit_frequency</text><text x="78.1" y="125.79">enum</text>
    <text x="7" y="148.66">created_by</text><text x="78.1" y="148.66">varchar</text>
    <text x="7" y="171.53">created_at</text><text x="78.1" y="171.53">timestamp</text>
    <text x="7" y="194.4">updated_by</text><text x="78.1" y="194.4">varchar</text>
    <text x="7" y="217.27">updated_at</text><text x="78.1" y="217.27">timestamp</text>
  </g>
</g>
</g>
</svg>
